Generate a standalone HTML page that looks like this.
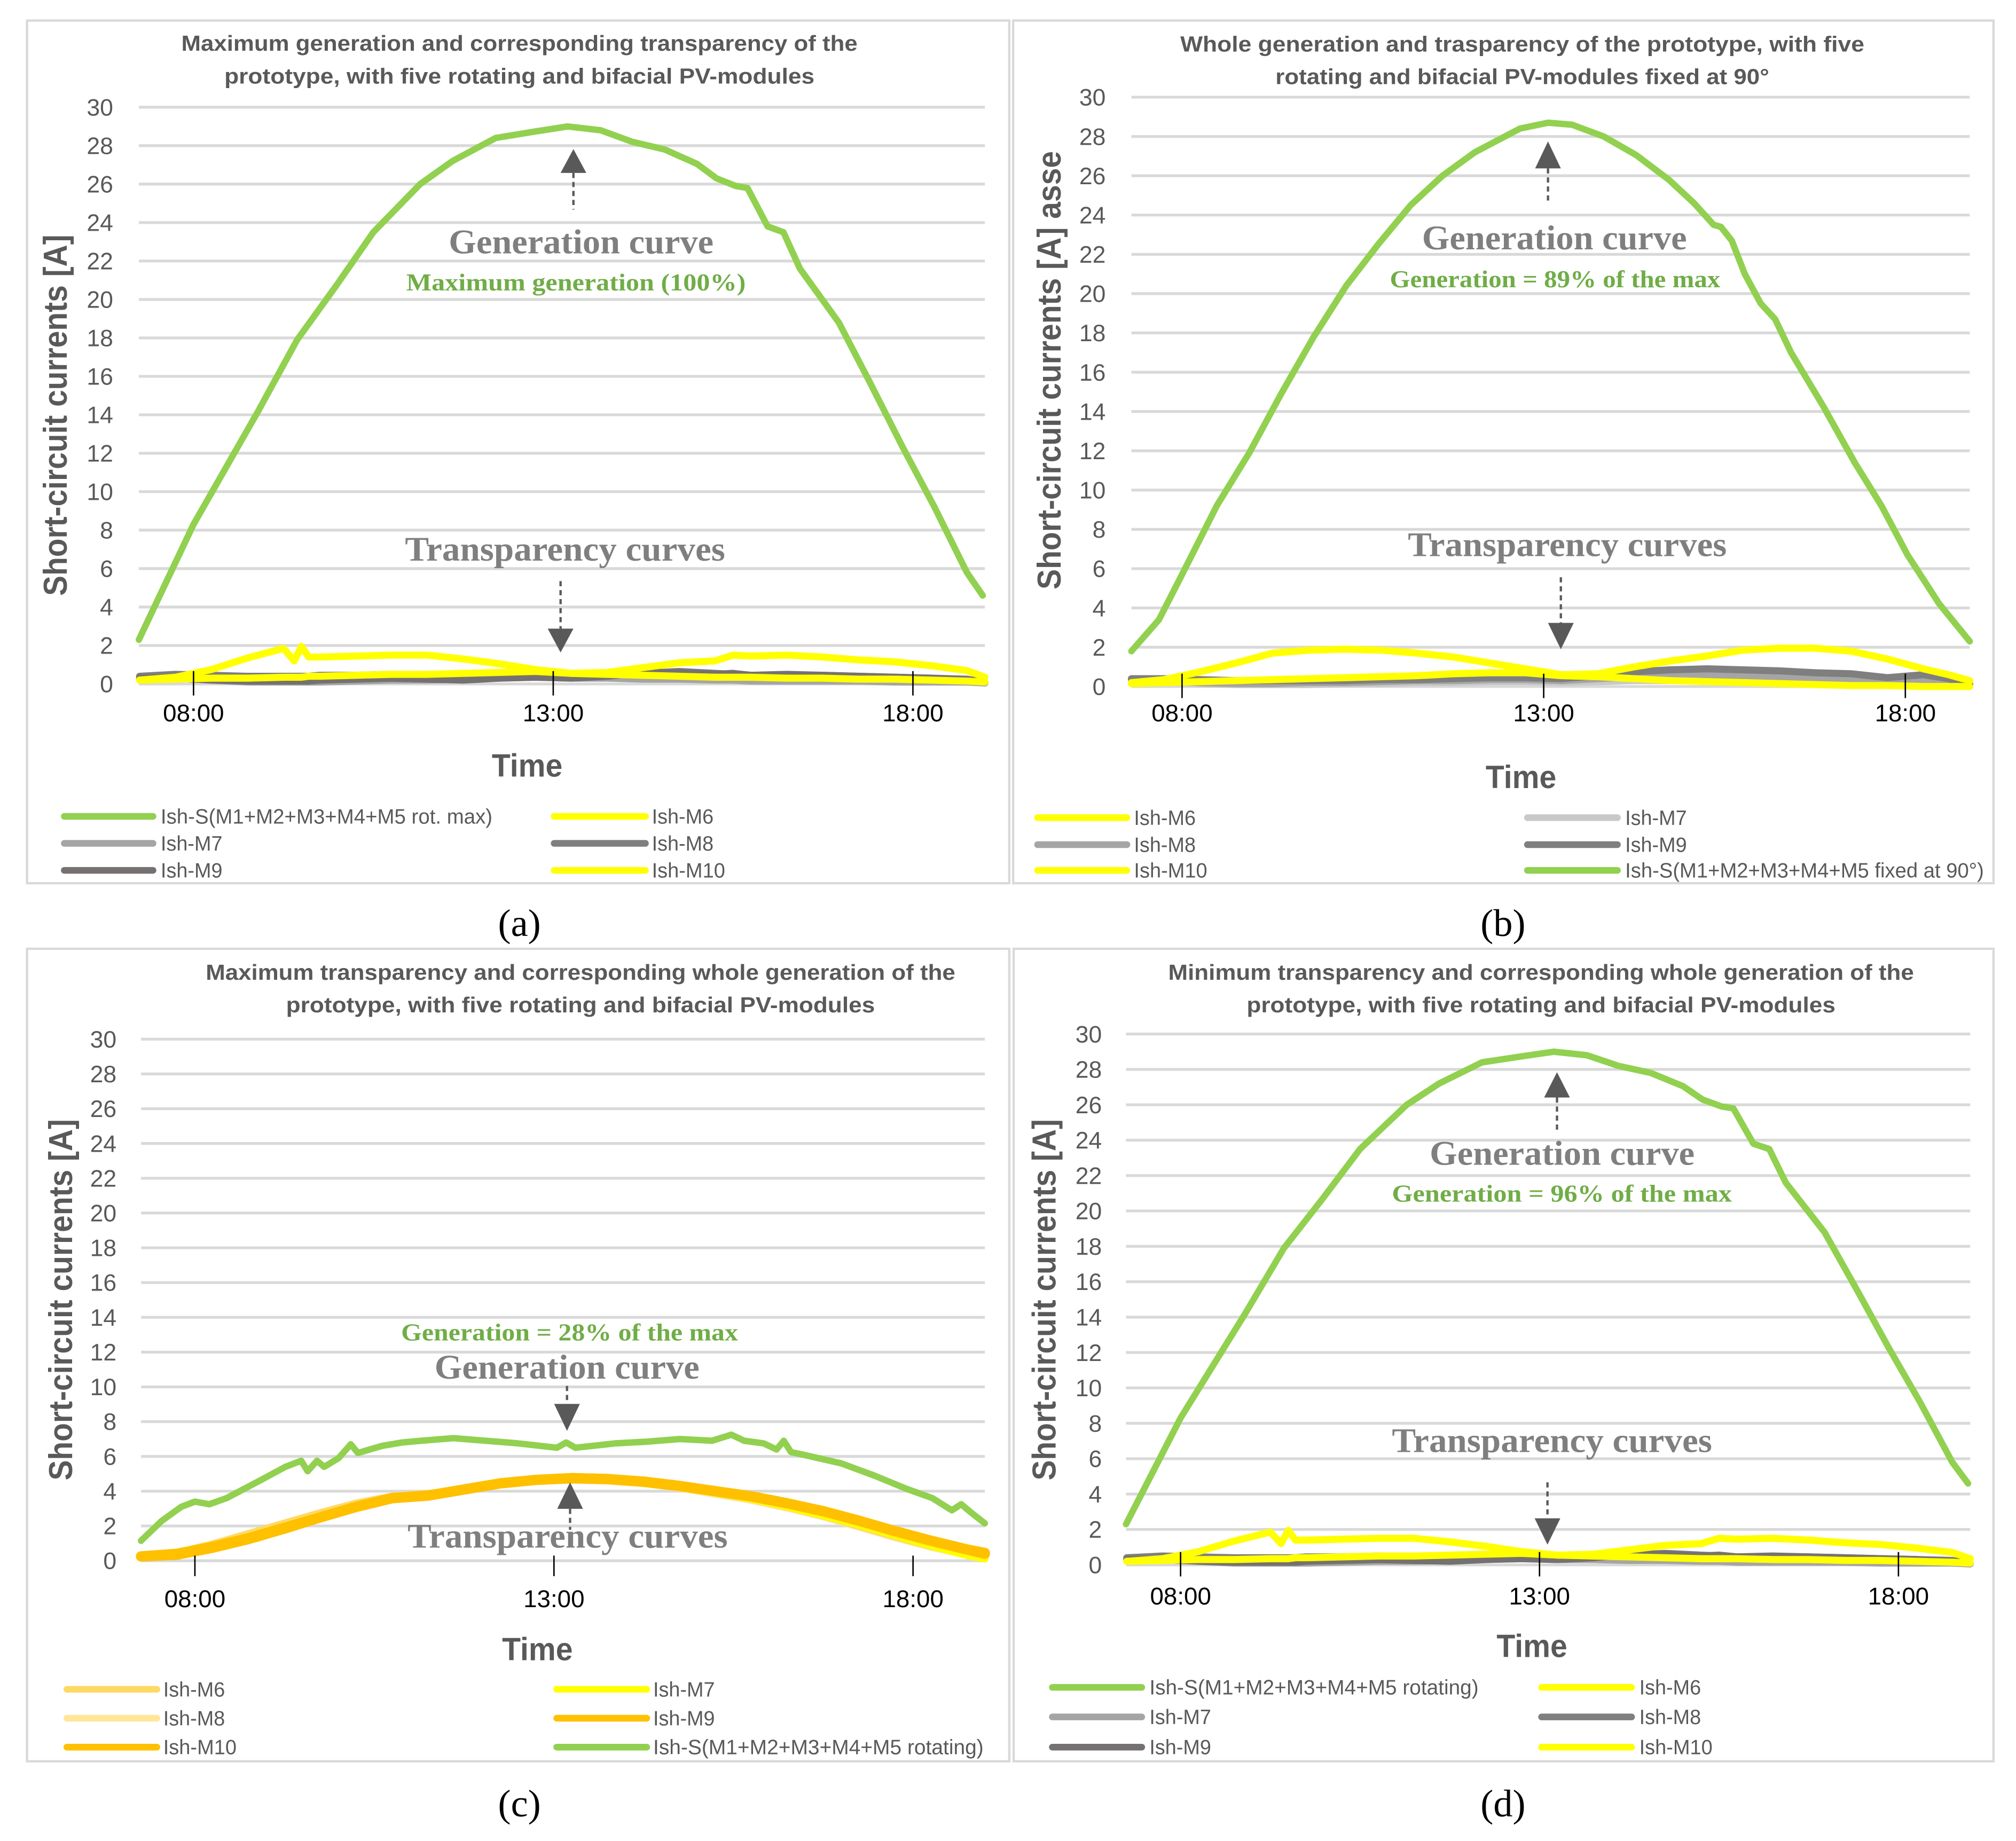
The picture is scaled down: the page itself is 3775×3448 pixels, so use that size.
<!DOCTYPE html>
<html><head><meta charset="utf-8"><style>
html,body{margin:0;padding:0;background:#fff;}
svg{display:block;}
</style></head><body>
<svg id="fig" xmlns="http://www.w3.org/2000/svg" width="3775" height="3448" viewBox="0 0 1568 1432" preserveAspectRatio="none"></svg>
<script>
// ===== Data (hours of day, currents in A) =====
const yTicks = [0,2,4,6,8,10,12,14,16,18,20,22,24,26,28,30];
const xTickHours = [8,13,18];
const xTickLabels = ["08:00","13:00","18:00"];

// Panel (a)
const genATimes = [7.24,8.0,8.9,9.44,9.98,10.5,11.15,11.6,12.2,12.77,13.2,13.66,14.1,14.55,15.0,15.27,15.54,15.7,15.98,16.2,16.43,16.7,16.97,17.4,17.86,18.3,18.75,18.97];
const genAVals = [2.3,8.3,14.2,17.9,20.7,23.5,26.0,27.2,28.4,28.75,29.0,28.8,28.2,27.8,27.05,26.3,25.9,25.8,23.8,23.5,21.6,20.2,18.8,15.7,12.3,9.2,5.8,4.6];
const lowATimes = [7.25,7.75,8.25,8.75,9.25,9.4,9.5,9.6,9.75,10.25,10.75,11.25,11.75,12.25,12.75,13.25,13.75,14.25,14.75,15.25,15.5,15.75,16.25,16.75,17.25,17.75,18.25,18.75,19.0];
const m6A = [0.2,0.35,0.75,1.35,1.85,1.2,1.95,1.4,1.4,1.45,1.5,1.5,1.3,1.05,0.75,0.55,0.6,0.85,1.1,1.2,1.5,1.45,1.5,1.4,1.25,1.15,0.95,0.7,0.35];
const m10A = [0.2,0.25,0.3,0.3,0.35,0.35,0.35,0.4,0.4,0.45,0.5,0.5,0.55,0.6,0.65,0.55,0.5,0.45,0.4,0.35,0.35,0.35,0.3,0.3,0.25,0.25,0.2,0.15,0.1];
const m7A = [0.3,0.3,0.2,0.1,0.1,0.1,0.1,0.1,0.1,0.15,0.2,0.2,0.25,0.3,0.35,0.3,0.3,0.25,0.25,0.2,0.2,0.15,0.15,0.15,0.15,0.1,0.1,0.1,0.05];
const m8A = [0.4,0.5,0.45,0.4,0.4,0.4,0.4,0.4,0.45,0.45,0.5,0.45,0.45,0.4,0.4,0.4,0.45,0.55,0.65,0.55,0.5,0.45,0.45,0.45,0.4,0.35,0.3,0.25,0.1];
const m9A = [0.3,0.3,0.2,0.15,0.15,0.15,0.15,0.15,0.2,0.25,0.3,0.25,0.2,0.3,0.35,0.3,0.4,0.6,0.6,0.5,0.55,0.45,0.5,0.45,0.4,0.35,0.3,0.2,0.1];

// Panel (b)
const genBTimes = [7.3,7.68,8.0,8.48,8.93,9.37,9.82,10.27,10.71,11.16,11.6,12.05,12.67,13.06,13.39,13.83,14.28,14.73,15.08,15.35,15.45,15.6,15.78,16.0,16.2,16.42,16.86,17.3,17.67,18.03,18.47,18.89];
const genBVals = [1.8,3.4,5.7,9.2,11.9,14.9,17.8,20.4,22.5,24.5,26.0,27.2,28.4,28.7,28.6,28.0,27.05,25.8,24.6,23.5,23.4,22.7,21.0,19.5,18.7,17.0,14.3,11.4,9.2,6.7,4.2,2.3];
const lowBTimes = [7.3,7.75,8.25,8.75,9.25,9.75,10.25,10.75,11.25,11.75,12.25,12.75,13.25,13.75,14.25,14.75,15.25,15.75,16.25,16.75,17.25,17.75,18.25,18.6,18.89];
const m6B = [0.2,0.35,0.75,1.2,1.7,1.85,1.9,1.85,1.7,1.5,1.2,0.9,0.6,0.65,1.0,1.3,1.55,1.85,1.95,1.95,1.8,1.4,0.9,0.6,0.3];
const m10B = [0.15,0.2,0.25,0.3,0.35,0.4,0.45,0.5,0.55,0.65,0.7,0.7,0.55,0.5,0.4,0.3,0.25,0.2,0.15,0.1,0.05,0.05,0.0,0.0,0.0];
const m7B = [0.3,0.25,0.15,0.1,0.1,0.1,0.15,0.15,0.2,0.2,0.25,0.25,0.2,0.25,0.3,0.3,0.3,0.25,0.2,0.15,0.15,0.1,0.1,0.05,0.05];
const m8B = [0.35,0.3,0.2,0.15,0.15,0.2,0.2,0.25,0.3,0.3,0.35,0.35,0.3,0.4,0.5,0.55,0.55,0.5,0.45,0.4,0.35,0.3,0.3,0.2,0.1];
const m9B = [0.4,0.4,0.35,0.3,0.3,0.3,0.3,0.35,0.35,0.4,0.45,0.45,0.4,0.55,0.75,0.85,0.9,0.85,0.8,0.7,0.65,0.45,0.6,0.4,0.1];

// Panel (c)
const genCTimes = [7.25,7.54,7.81,8.0,8.2,8.44,8.9,9.26,9.48,9.57,9.7,9.8,10.0,10.17,10.27,10.6,10.88,11.15,11.6,12.05,12.5,13.04,13.17,13.3,13.85,14.3,14.75,15.2,15.47,15.65,15.92,16.1,16.2,16.3,16.47,17.0,17.46,17.9,18.27,18.54,18.67,18.8,19.0];
const genCVals = [1.15,2.3,3.1,3.4,3.25,3.6,4.6,5.4,5.75,5.15,5.75,5.4,5.9,6.7,6.2,6.6,6.8,6.9,7.05,6.9,6.75,6.5,6.8,6.5,6.75,6.85,7.0,6.9,7.25,6.9,6.75,6.4,6.9,6.25,6.1,5.6,4.9,4.15,3.6,2.9,3.25,2.8,2.15];
const lowCTimes = [7.25,7.75,8.25,8.75,9.25,9.75,10.25,10.75,11.25,11.75,12.25,12.75,13.25,13.75,14.25,14.75,15.25,15.75,16.25,16.75,17.25,17.75,18.25,18.75,19.0];
const m6C = [0.3,0.45,0.95,1.55,2.15,2.75,3.3,3.7,3.85,4.1,4.4,4.6,4.7,4.65,4.5,4.25,3.9,3.55,3.1,2.6,2.0,1.4,0.85,0.4,0.2];
const m7C = [0.2,0.5,0.9,1.4,2.0,2.6,3.2,3.65,3.85,4.15,4.45,4.65,4.7,4.6,4.45,4.2,3.9,3.55,3.1,2.6,2.05,1.45,0.85,0.3,0.1];
const m8C = [0.3,0.45,0.95,1.5,2.1,2.7,3.25,3.7,3.85,4.1,4.4,4.6,4.65,4.6,4.45,4.2,3.85,3.5,3.05,2.55,1.95,1.35,0.8,0.35,0.15];
const m9C = [0.25,0.35,0.75,1.25,1.85,2.5,3.1,3.6,3.75,4.1,4.45,4.65,4.75,4.7,4.55,4.3,4.0,3.7,3.3,2.85,2.3,1.7,1.15,0.65,0.45];
const m10C = [0.25,0.4,0.8,1.3,1.9,2.5,3.1,3.6,3.75,4.1,4.45,4.65,4.75,4.7,4.55,4.3,4.0,3.7,3.3,2.85,2.3,1.7,1.15,0.65,0.4];

// Panel (d)
const genDTimes = [7.24,8.0,8.9,9.44,9.98,10.5,11.15,11.6,12.2,12.77,13.2,13.66,14.1,14.55,15.0,15.27,15.54,15.7,15.98,16.2,16.43,16.7,16.97,17.4,17.86,18.3,18.75,18.97];
const genDVals = [2.3,8.3,14.2,17.9,20.7,23.5,26.0,27.2,28.4,28.75,29.0,28.8,28.2,27.8,27.05,26.3,25.9,25.8,23.8,23.5,21.6,20.2,18.8,15.7,12.3,9.2,5.8,4.6];
const lowDTimes = [7.25,7.75,8.25,8.75,9.25,9.4,9.5,9.6,9.75,10.25,10.75,11.25,11.75,12.25,12.75,13.25,13.75,14.25,14.75,15.25,15.5,15.75,16.25,16.75,17.25,17.75,18.25,18.75,19.0];
const m6D = [0.2,0.35,0.75,1.35,1.85,1.2,1.95,1.4,1.4,1.45,1.5,1.5,1.3,1.05,0.75,0.55,0.6,0.85,1.1,1.2,1.5,1.45,1.5,1.4,1.25,1.15,0.95,0.7,0.35];
const m10D = [0.2,0.25,0.3,0.3,0.35,0.35,0.35,0.4,0.4,0.45,0.5,0.5,0.55,0.6,0.65,0.55,0.5,0.45,0.4,0.35,0.35,0.35,0.3,0.3,0.25,0.25,0.2,0.15,0.1];
const m7D = [0.3,0.3,0.2,0.1,0.1,0.1,0.1,0.1,0.1,0.15,0.2,0.2,0.25,0.3,0.35,0.3,0.3,0.25,0.25,0.2,0.2,0.15,0.15,0.15,0.15,0.1,0.1,0.1,0.05];
const m8D = [0.4,0.5,0.45,0.4,0.4,0.4,0.4,0.4,0.45,0.45,0.5,0.45,0.45,0.4,0.4,0.4,0.45,0.55,0.65,0.55,0.5,0.45,0.45,0.45,0.4,0.35,0.3,0.25,0.1];
const m9D = [0.3,0.3,0.2,0.15,0.15,0.15,0.15,0.15,0.2,0.25,0.3,0.25,0.2,0.3,0.35,0.3,0.4,0.6,0.6,0.5,0.55,0.45,0.5,0.45,0.4,0.35,0.3,0.2,0.1];

// ===== Rendering =====
const NS = "http://www.w3.org/2000/svg";
const svg = document.getElementById("fig");
const SANS = '"Liberation Sans", "DejaVu Sans", sans-serif';
const SERIF = '"Liberation Serif", "DejaVu Serif", serif';
const GREEN = "#92d050";
const GREENTXT = "#70ad47";
const GREYTXT = "#7f7f7f";
const DARK = "#595959";

function mk(tag, attrs, parent) {
  const e = document.createElementNS(NS, tag);
  for (const k in attrs) e.setAttribute(k, attrs[k]);
  (parent || svg).appendChild(e);
  return e;
}
function txt(str, attrs, parent) {
  const e = mk("text", attrs, parent);
  e.textContent = str;
  return e;
}

function drawPanel(P) {
  const g = mk("g", {});
  
  
  const border = mk("rect", {x:P.bx1, y:P.by1, width:P.bx2-P.bx1, height:P.by2-P.by1, fill:"#fff", stroke:"#d9d9d9", "stroke-width":1.8}, g);
  
  

  const xs = t => P.px1 + (t - P.tMin) / (P.tMax - P.tMin) * (P.px2 - P.px1);
  const ys = v => P.y0 - v / 30 * (P.y0 - P.y30);

  P.title.forEach((line, i) => {
    const t = txt(line, {x:P.tcx, y:P.tby[i], "text-anchor":"middle", "font-family":SANS, "font-weight":"bold", "font-size":17, fill:DARK, textLength:P.tlen[i], lengthAdjust:"spacingAndGlyphs"}, g);
    
    
  });

  yTicks.forEach(v => {
    const ln = mk("line", {x1:P.px1, x2:P.px2, y1:ys(v), y2:ys(v), stroke:"#d9d9d9", "stroke-width":2.2}, g);
    
    
    const t = txt(String(v), {x:P.ylx, y:ys(v)+6.5, "text-anchor":"end", "font-family":SANS, "font-size":18.5, fill:DARK}, g);
    
    
  });

  P.series.forEach(s => {
    const d = s.t.map((t, i) => (i ? "L" : "M") + xs(t).toFixed(2) + "," + ys(s.v[i]).toFixed(2)).join(" ");
    const p = mk("path", {d:d, fill:"none", stroke:s.color, "stroke-width":s.w, "stroke-linejoin":"round", "stroke-linecap":"round"}, g);
    
    
  });

  xTickHours.forEach((h, i) => {
    const x = xs(h);
    const tk = mk("line", {x1:x, x2:x, y1:P.y0 + P.tk1, y2:P.y0 + P.tk2, stroke:"#000", "stroke-width":1.1}, g);
    
    
    const t = txt(xTickLabels[i], {x:x, y:P.xly, "text-anchor":"middle", "font-family":SANS, "font-size":19, fill:"#000"}, g);
    
    
  });

  const xt = txt("Time", {x:P.timeX, y:P.timeY, "text-anchor":"middle", "font-family":SANS, "font-weight":"bold", "font-size":25, fill:DARK, textLength:55, lengthAdjust:"spacingAndGlyphs"}, g);
  
  
  const yt = txt(P.ytitle, {x:0, y:0, "text-anchor":"middle", "font-family":SANS, "font-weight":"bold", "font-size":26, fill:DARK, textLength:P.ytLen, lengthAdjust:"spacingAndGlyphs", transform:"translate(" + (P.ytX + 9) + "," + P.ytY + ") rotate(-90)"}, g);
  
  

  P.notes.forEach(n => {
    const t = txt(n.text, {x:(n.x1+n.x2)/2, y:n.y, "text-anchor":"middle", "font-family":SERIF, "font-weight":"bold", "font-size":n.fs, fill:n.color, textLength:n.x2-n.x1, lengthAdjust:"spacingAndGlyphs"}, g);
    
    
  });
  P.arrows.forEach(a => {
    const ag = mk("g", {}, g);
    
    
    mk("line", {x1:a.x, x2:a.x, y1:a.d1, y2:a.d2, stroke:DARK, "stroke-width":1.8, "stroke-dasharray":"4,3"}, ag);
    const hw = 10;
    let pts;
    if (a.dir === "up") pts = [a.x, a.h1, a.x-hw, a.h2, a.x+hw, a.h2];
    else pts = [a.x, a.h2, a.x-hw, a.h1, a.x+hw, a.h1];
    mk("polygon", {points:pts.join(","), fill:DARK}, ag);
  });

  P.legend.forEach(L => {
    const lg = mk("g", {}, g);
    
    
    mk("line", {x1:L.l1, x2:L.l2, y1:L.y, y2:L.y, stroke:L.color, "stroke-width":5.2, "stroke-linecap":"round"}, lg);
    const at = {x:L.tx, y:L.y + 5.6, "font-family":SANS, "font-size":16, fill:DARK};
    if (L.tl) { at.textLength = L.tl; at.lengthAdjust = "spacingAndGlyphs"; }
    txt(L.label, at, lg);
  });

  const lab = txt(P.label, {x:P.labX, y:P.labY, "text-anchor":"middle", "font-family":SERIF, "font-size":30, fill:"#000"}, g);
  
  
}

drawPanel({
  name:"chart-a", label:"(a)", labX:404, labY:728,
  bx1:21, by1:16, bx2:785, by2:687,
  px1:108, px2:766, tMin:7.24, tMax:19.0, y0:532, y30:83.4,
  tk1:-10, tk2:9, xly:561, ylx:88,
  title:["Maximum generation and corresponding transparency of the","prototype, with five rotating and bifacial PV-modules"],
  tcx:404, tby:[39.5,65], tlen:[526,459],
  timeX:410, timeY:604,
  ytitle:"Short-circuit currents [A]", ytX:43, ytY:323, ytLen:281,
  series:[
    {key:"series-ish-m7", t:lowATimes, v:m7A, color:"#a5a5a5", w:5.5},
    {key:"series-ish-m8", t:lowATimes, v:m8A, color:"#7f7f7f", w:5.5},
    {key:"series-ish-m9", t:lowATimes, v:m9A, color:"#767171", w:5.5},
    {key:"series-ish-m10", t:lowATimes, v:m10A, color:"#ffff00", w:5.5},
    {key:"series-ish-m6", t:lowATimes, v:m6A, color:"#ffff00", w:5.5},
    {key:"series-ish-s-rot-max", t:genATimes, v:genAVals, color:GREEN, w:5}
  ],
  notes:[
    {key:"generation-curve-label", text:"Generation curve", x1:349, x2:555, y:197, fs:27, color:GREYTXT},
    {key:"generation-percent-label", text:"Maximum generation (100%)", x1:316, x2:580, y:226, fs:19, color:GREENTXT},
    {key:"transparency-curves-label", text:"Transparency curves", x1:315, x2:564, y:436, fs:27, color:GREYTXT}
  ],
  arrows:[
    {key:"generation-arrow", dir:"up", x:446, h1:116, h2:134.5, d1:134.5, d2:163},
    {key:"transparency-arrow", dir:"down", x:436, h1:489, h2:507.5, d1:452, d2:489}
  ],
  legend:[
    {label:"Ish-S(M1+M2+M3+M4+M5 rot. max)", color:GREEN, l1:50, l2:119, tx:125, y:635, tl:258},
    {label:"Ish-M6", color:"#ffff00", l1:431, l2:502, tx:507, y:635, tl:48},
    {label:"Ish-M7", color:"#a5a5a5", l1:50, l2:119, tx:125, y:656, tl:48},
    {label:"Ish-M8", color:"#7f7f7f", l1:431, l2:502, tx:507, y:656, tl:48},
    {label:"Ish-M9", color:"#767171", l1:50, l2:119, tx:125, y:677, tl:48},
    {label:"Ish-M10", color:"#ffff00", l1:431, l2:502, tx:507, y:677, tl:57}
  ]
});

drawPanel({
  name:"chart-b", label:"(b)", labX:1169, labY:728,
  bx1:788, by1:16, bx2:1550.5, by2:687,
  px1:880, px2:1532, tMin:7.3, tMax:18.89, y0:534, y30:75.6,
  tk1:-10, tk2:9, xly:561, ylx:860,
  title:["Whole generation and trasparency of the prototype, with five","rotating and bifacial PV-modules fixed at 90°"],
  tcx:1184, tby:[40,65.5], tlen:[532,384],
  timeX:1183, timeY:613,
  ytitle:"Short-circuit currents [A] asse", ytX:816, ytY:288, ytLen:341,
  series:[
    {key:"series-ish-m7", t:lowBTimes, v:m7B, color:"#c9c9c9", w:5.5},
    {key:"series-ish-m8", t:lowBTimes, v:m8B, color:"#a5a5a5", w:5.5},
    {key:"series-ish-m9", t:lowBTimes, v:m9B, color:"#7f7f7f", w:5.5},
    {key:"series-ish-m10", t:lowBTimes, v:m10B, color:"#ffff00", w:5.5},
    {key:"series-ish-m6", t:lowBTimes, v:m6B, color:"#ffff00", w:5.5},
    {key:"series-ish-s-fixed-90", t:genBTimes, v:genBVals, color:GREEN, w:5}
  ],
  notes:[
    {key:"generation-curve-label", text:"Generation curve", x1:1106, x2:1312, y:194, fs:27, color:GREYTXT},
    {key:"generation-percent-label", text:"Generation = 89% of the max", x1:1081, x2:1338, y:223.5, fs:19, color:GREENTXT},
    {key:"transparency-curves-label", text:"Transparency curves", x1:1095, x2:1343, y:432.5, fs:27, color:GREYTXT}
  ],
  arrows:[
    {key:"generation-arrow", dir:"up", x:1204, h1:110, h2:131, d1:131, d2:158.5},
    {key:"transparency-arrow", dir:"down", x:1214, h1:484.5, h2:505, d1:449, d2:484.5}
  ],
  legend:[
    {label:"Ish-M6", color:"#ffff00", l1:807, l2:876.5, tx:882, y:636, tl:48},
    {label:"Ish-M7", color:"#c9c9c9", l1:1188, l2:1258, tx:1264, y:636, tl:48},
    {label:"Ish-M8", color:"#a5a5a5", l1:807, l2:876.5, tx:882, y:657, tl:48},
    {label:"Ish-M9", color:"#7f7f7f", l1:1188, l2:1258, tx:1264, y:657, tl:48},
    {label:"Ish-M10", color:"#ffff00", l1:807, l2:876.5, tx:882, y:677, tl:57},
    {label:"Ish-S(M1+M2+M3+M4+M5 fixed at 90°)", color:GREEN, l1:1188, l2:1258, tx:1264, y:677, tl:279}
  ]
});

drawPanel({
  name:"chart-c", label:"(c)", labX:404, labY:1413,
  bx1:21, by1:738, bx2:785, by2:1370,
  px1:109.7, px2:766, tMin:7.25, tMax:19.0, y0:1214, y30:808.3,
  tk1:-4, tk2:12, xly:1250, ylx:90.6,
  title:["Maximum transparency and corresponding whole generation of the","prototype, with five rotating and bifacial PV-modules"],
  tcx:451.5, tby:[762,787.5], tlen:[583,458],
  timeX:418, timeY:1291.5,
  ytitle:"Short-circuit currents [A]", ytX:47, ytY:1011, ytLen:281,
  series:[
    {key:"series-ish-m8", t:lowCTimes, v:m8C, color:"#ffe699", w:6},
    {key:"series-ish-m6", t:lowCTimes, v:m6C, color:"#ffd966", w:6},
    {key:"series-ish-m7", t:lowCTimes, v:m7C, color:"#ffff00", w:5.5},
    {key:"series-ish-m10", t:lowCTimes, v:m10C, color:"#ffc000", w:8},
    {key:"series-ish-m9", t:lowCTimes, v:m9C, color:"#ffc000", w:8},
    {key:"series-ish-s-rotating", t:genCTimes, v:genCVals, color:GREEN, w:5}
  ],
  notes:[
    {key:"generation-percent-label", text:"Generation = 28% of the max", x1:312, x2:574, y:1042.7, fs:19, color:GREENTXT},
    {key:"generation-curve-label", text:"Generation curve", x1:338, x2:544, y:1072.4, fs:27, color:GREYTXT},
    {key:"transparency-curves-label", text:"Transparency curves", x1:317, x2:566, y:1203.7, fs:27, color:GREYTXT}
  ],
  arrows:[
    {key:"generation-arrow", dir:"down", x:441, h1:1092, h2:1113, d1:1078, d2:1092},
    {key:"transparency-arrow", dir:"up", x:443.4, h1:1153, h2:1173.6, d1:1173.6, d2:1190}
  ],
  legend:[
    {label:"Ish-M6", color:"#ffd966", l1:52, l2:122, tx:127, y:1314, tl:48},
    {label:"Ish-M7", color:"#ffff00", l1:433, l2:503, tx:508, y:1314, tl:48},
    {label:"Ish-M8", color:"#ffe699", l1:52, l2:122, tx:127, y:1336.5, tl:48},
    {label:"Ish-M9", color:"#ffc000", l1:433, l2:503, tx:508, y:1336.5, tl:48},
    {label:"Ish-M10", color:"#ffc000", l1:52, l2:122, tx:127, y:1359, tl:57},
    {label:"Ish-S(M1+M2+M3+M4+M5 rotating)", color:GREEN, l1:433, l2:503, tx:508, y:1359, tl:257}
  ]
});

drawPanel({
  name:"chart-d", label:"(d)", labX:1169, labY:1413,
  bx1:788.4, by1:738, bx2:1550.5, by2:1370,
  px1:875.8, px2:1532.4, tMin:7.24, tMax:19.0, y0:1217.2, y30:804.3,
  tk1:-10, tk2:9, xly:1248, ylx:857,
  title:["Minimum transparency and corresponding whole generation of the","prototype, with five rotating and bifacial PV-modules"],
  tcx:1198.6, tby:[762,787.5], tlen:[580,458],
  timeX:1191.5, timeY:1289,
  ytitle:"Short-circuit currents [A]", ytX:812, ytY:1011, ytLen:281,
  series:[
    {key:"series-ish-m7", t:lowDTimes, v:m7D, color:"#a5a5a5", w:5.5},
    {key:"series-ish-m8", t:lowDTimes, v:m8D, color:"#7f7f7f", w:5.5},
    {key:"series-ish-m9", t:lowDTimes, v:m9D, color:"#767171", w:5.5},
    {key:"series-ish-m10", t:lowDTimes, v:m10D, color:"#ffff00", w:5.5},
    {key:"series-ish-m6", t:lowDTimes, v:m6D, color:"#ffff00", w:5.5},
    {key:"series-ish-s-rotating", t:genDTimes, v:genDVals, color:GREEN, w:5}
  ],
  notes:[
    {key:"generation-curve-label", text:"Generation curve", x1:1112, x2:1318, y:906, fs:27, color:GREYTXT},
    {key:"generation-percent-label", text:"Generation =  96% of the max", x1:1082.6, x2:1347, y:934.7, fs:19, color:GREENTXT},
    {key:"transparency-curves-label", text:"Transparency curves", x1:1082.6, x2:1331.6, y:1129.5, fs:27, color:GREYTXT}
  ],
  arrows:[
    {key:"generation-arrow", dir:"up", x:1211, h1:834, h2:853.7, d1:853.7, d2:880.7},
    {key:"transparency-arrow", dir:"down", x:1203.6, h1:1181, h2:1201.5, d1:1153, d2:1181}
  ],
  legend:[
    {label:"Ish-S(M1+M2+M3+M4+M5 rotating)", color:GREEN, l1:818.5, l2:888, tx:894, y:1312.5, tl:256},
    {label:"Ish-M6", color:"#ffff00", l1:1199, l2:1269, tx:1275, y:1312.5, tl:48},
    {label:"Ish-M7", color:"#a5a5a5", l1:818.5, l2:888, tx:894, y:1335.5, tl:48},
    {label:"Ish-M8", color:"#7f7f7f", l1:1199, l2:1269, tx:1275, y:1335.5, tl:48},
    {label:"Ish-M9", color:"#767171", l1:818.5, l2:888, tx:894, y:1359, tl:48},
    {label:"Ish-M10", color:"#ffff00", l1:1199, l2:1269, tx:1275, y:1359, tl:57}
  ]
});
</script>
</body></html>
